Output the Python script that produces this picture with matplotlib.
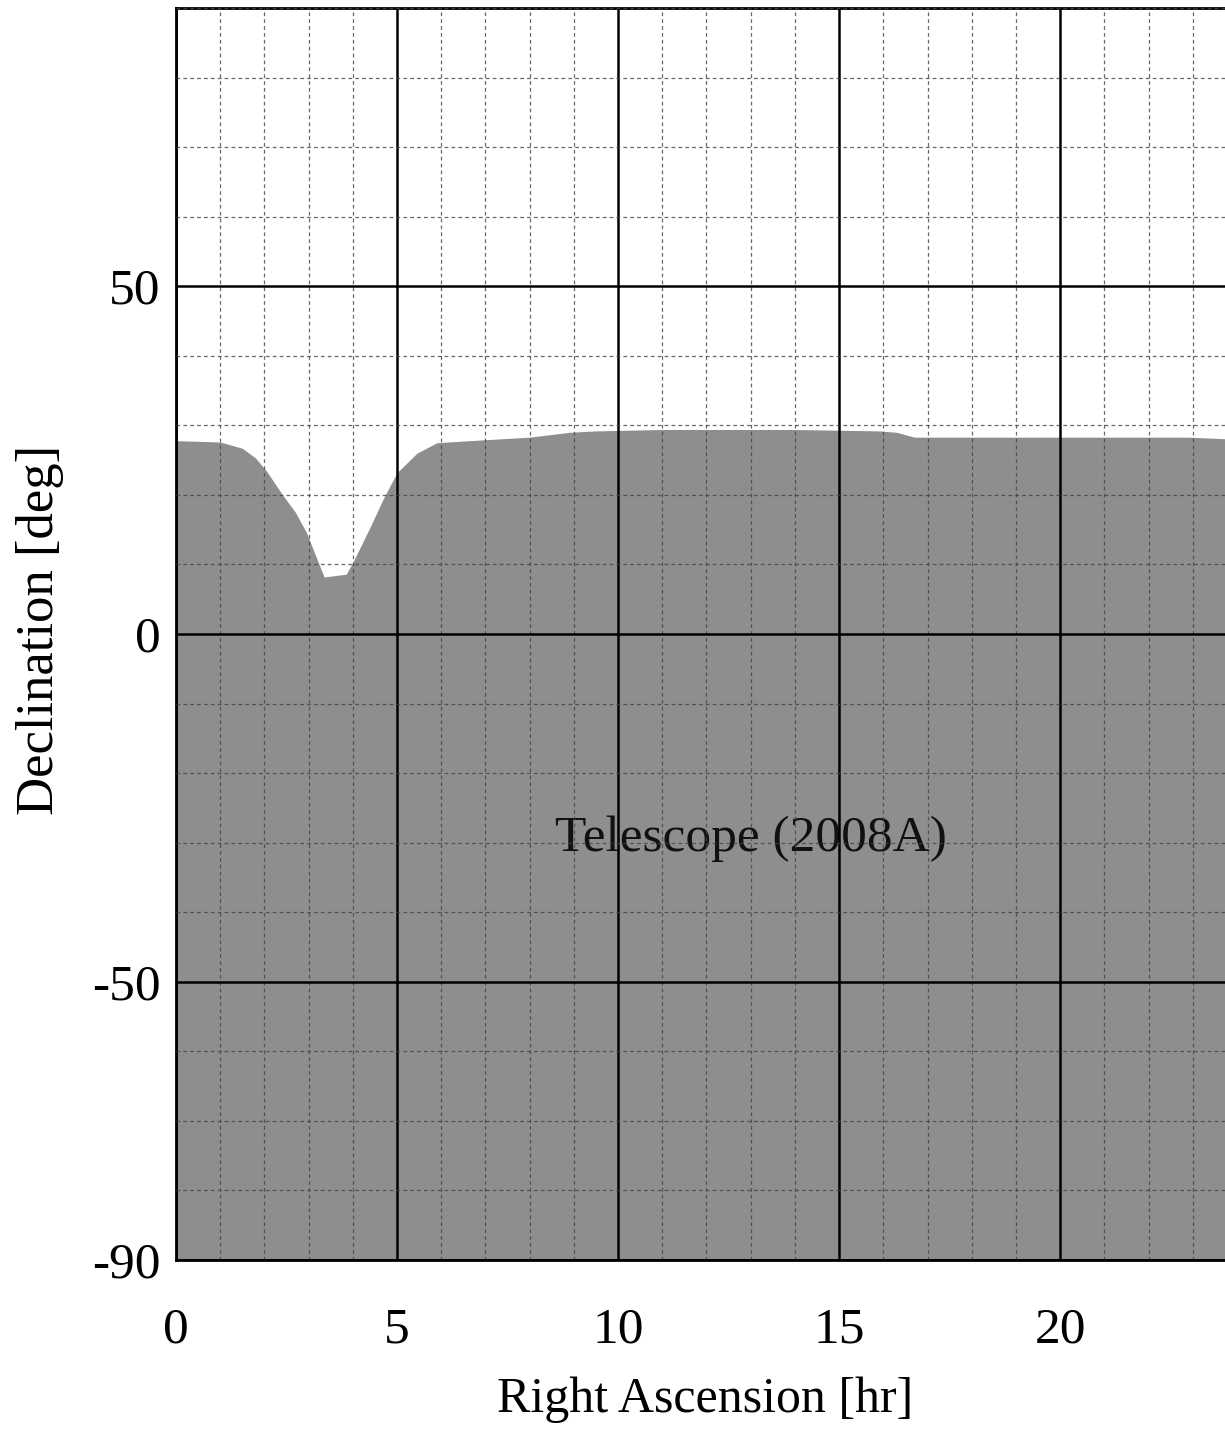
import matplotlib
matplotlib.use("Agg")
import matplotlib.pyplot as plt
from matplotlib.ticker import MultipleLocator, FixedLocator, FuncFormatter

# Boundary of the telescope-accessible region (upper edge of the filled area)
ra_hr = [0.0, 1.0, 1.5, 1.8, 2.05, 2.4, 2.7, 2.95, 3.35, 3.85, 4.0, 4.4, 4.7, 5.0, 5.45, 5.9, 6.65,
         8.0, 8.9, 9.5, 11.0, 14.0, 15.9, 16.3, 16.7, 20.0, 22.9, 24.0]
dec_deg = [27.8, 27.6, 26.7, 25.3, 23.4, 20.1, 17.5, 14.6, 8.2, 8.6, 10.3, 15.5, 19.6, 23.2, 26.0, 27.5, 27.8,
           28.3, 29.0, 29.2, 29.4, 29.4, 29.2, 29.0, 28.3, 28.3, 28.3, 28.0]

x_ticks = [0, 5, 10, 15, 20]
y_ticks = [-90, -50, 0, 50]
label_text = "Telescope (2008A)"

plt.rcParams['font.family'] = ['Liberation Serif', 'DejaVu Serif']

W, H = 1225, 1431
fig = plt.figure(figsize=(W / 100, H / 100), dpi=100)
left, right, top, bottom = 176, 1237, 8, 1260
ax = fig.add_axes([left / W, 1 - bottom / H, (right - left) / W, (bottom - top) / H])

ax.fill_between(ra_hr, -90, dec_deg, color='#8e8e8e', linewidth=0, zorder=0.5)

ax.set_xlim(0, 24)
ax.set_ylim(-90, 90)
ax.xaxis.set_major_locator(FixedLocator(x_ticks))
ax.yaxis.set_major_locator(FixedLocator(y_ticks))
ax.xaxis.set_minor_locator(MultipleLocator(1))
ax.yaxis.set_minor_locator(MultipleLocator(10))
fmt = FuncFormatter(lambda v, p: "%d" % v)
ax.xaxis.set_major_formatter(fmt)
ax.yaxis.set_major_formatter(fmt)

ax.set_axisbelow(False)
ax.grid(which='major', color='black', linewidth=1.8, linestyle='-')
ax.grid(which='minor', color='#444444', linewidth=0.9, linestyle=(0, (3, 2.5)), alpha=0.8)

ax.tick_params(which='both', length=0)
ax.tick_params(axis='x', labelsize=37, pad=34)
ax.tick_params(axis='y', labelsize=37, pad=11)

for s in ['left', 'top', 'bottom']:
    ax.spines[s].set_linewidth(2)
    ax.spines[s].set_color('black')
ax.spines['right'].set_visible(False)

ax.set_xlabel('Right Ascension [hr]', fontsize=36)
ax.set_ylabel('Declination [deg]', fontsize=38)
ax.xaxis.set_label_coords((705 - left) / (right - left), -(1400 - bottom) / (bottom - top))
ax.yaxis.set_label_coords(-(left - 40) / (right - left), (bottom - 630) / (bottom - top))
ax.xaxis.label.set_va('center')
ax.yaxis.label.set_va('center')

ax.text(13.0, -29.5, label_text, fontsize=37, ha='center', va='center',
        color='#111111', zorder=2)

fig.savefig('out.png', dpi=100)
